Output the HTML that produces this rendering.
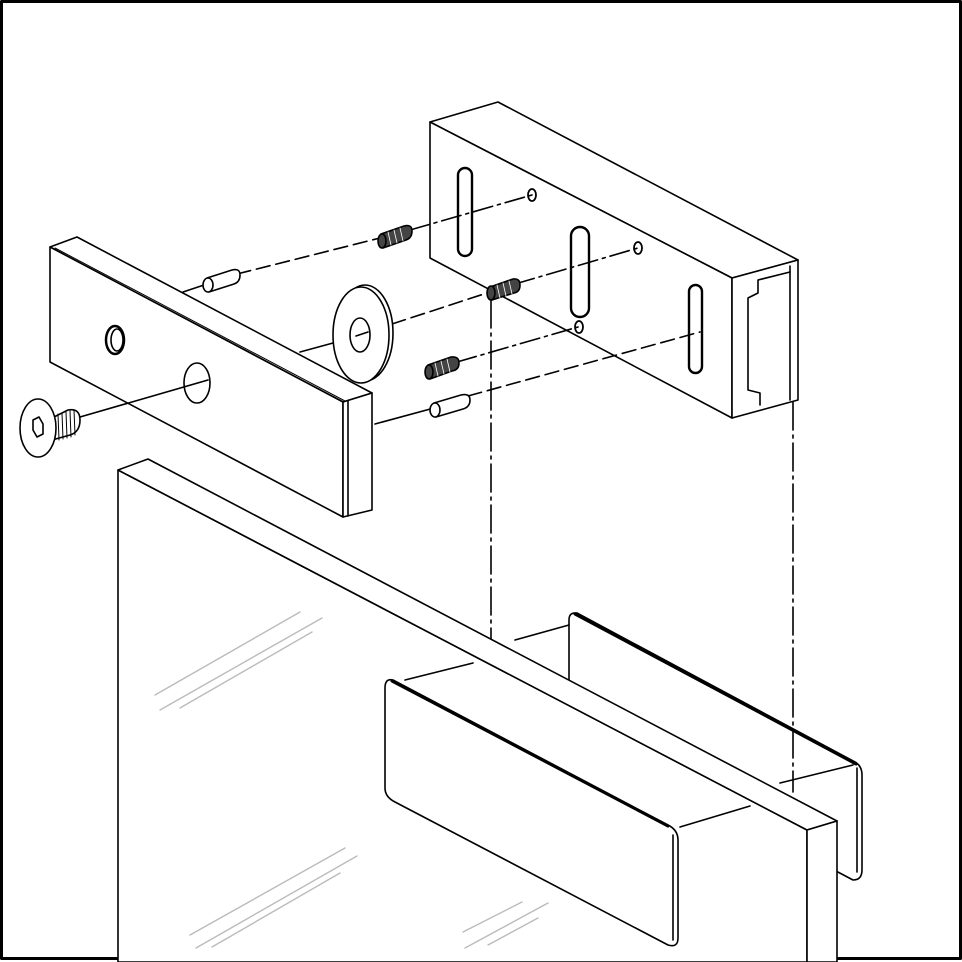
<!DOCTYPE html>
<html><head><meta charset="utf-8"><style>html,body{margin:0;padding:0;background:#fff}svg{display:block}</style></head>
<body>
<svg width="962" height="962" viewBox="0 0 962 962" xmlns="http://www.w3.org/2000/svg" fill="#fff" stroke="#000" stroke-width="1.6" stroke-linejoin="round" stroke-linecap="round">
<rect x="1.5" y="1.5" width="959" height="957" fill="#fff" stroke="#000" stroke-width="3"/>

<!-- back clamp plate (behind glass) -->
<path d="M569,620 Q569,612 577,613 L855,762 Q862,766 862,775 L862,870 Q862,880 853,880 L569,730 Z"/>
<path d="M575,614 L856,764" stroke-width="3" fill="none"/>
<path d="M857,768 L857,872" fill="none"/>
<line x1="515" y1="640" x2="569" y2="625"/>
<line x1="780" y1="783" x2="853" y2="765"/>

<!-- vertical guide lines -->
<g fill="none" stroke-dasharray="28,5,3,5">
<line x1="491" y1="300" x2="491" y2="640"/>
<line x1="793" y1="402" x2="793" y2="792"/>
</g>

<!-- glass -->
<polygon points="118,470 807,830 807,962 118,962"/>
<polygon points="118,470 148,459 837,821 807,830"/>
<polygon points="807,830 837,821 837,962 807,962"/>
<g stroke="#bbb" stroke-width="1.4" fill="none">
<line x1="155" y1="695" x2="300" y2="612"/>
<line x1="160" y1="710" x2="322" y2="618"/>
<line x1="180" y1="708" x2="312" y2="632"/>
<line x1="190" y1="935" x2="345" y2="848"/>
<line x1="196" y1="948" x2="357" y2="856"/>
<line x1="212" y1="947" x2="340" y2="873"/>
<line x1="463" y1="932" x2="522" y2="902"/>
<line x1="465" y1="948" x2="548" y2="903"/>
<line x1="488" y1="945" x2="538" y2="918"/>
</g>

<!-- front clamp plate -->
<line x1="405" y1="680" x2="473" y2="663"/>
<line x1="680" y1="827" x2="750" y2="806"/>
<path d="M385,688 Q385,678 393,680 L668,825 Q678,830 678,840 L678,938 Q678,948 668,945 L395,802 Q385,797 385,788 Z"/>
<path d="M392,681 L668,826" stroke-width="3" fill="none"/>
<path d="M673,835 L673,940" fill="none"/>

<!-- large bracket -->
<polygon points="430,122 498,102 798,260 732,278"/>
<polygon points="430,122 732,278 732,418 430,258"/>
<polygon points="732,278 798,260 798,400 732,418"/>
<polyline points="790,266 790,400" fill="none"/>
<polyline points="790,272 758,280 758,293 748,298 748,390 760,393 760,405" fill="none"/>
<rect x="458" y="168" width="14" height="88" rx="7" fill="none" stroke-width="2.4"/>
<rect x="571" y="227" width="18" height="90" rx="9" fill="none" stroke-width="2.4"/>
<rect x="689" y="285" width="13" height="88" rx="6.5" fill="none" stroke-width="2.4"/>
<ellipse cx="532" cy="195" rx="4" ry="6" fill="none" stroke-width="1.8"/>
<ellipse cx="638" cy="248" rx="4" ry="6" fill="none" stroke-width="1.8"/>
<ellipse cx="579" cy="327" rx="4" ry="6" fill="none" stroke-width="1.8"/>

<!-- assembly lines -->
<g fill="none">
<line x1="183" y1="292" x2="207" y2="284"/>
<line x1="237" y1="274" x2="380" y2="238" stroke-dasharray="14,6"/>
<line x1="410" y1="230" x2="532" y2="195" stroke-dasharray="20,5,3,5"/>
<line x1="300" y1="352" x2="355" y2="337"/>
<line x1="392" y1="324" x2="490" y2="292" stroke-dasharray="14,6"/>
<line x1="515" y1="284" x2="638" y2="248" stroke-dasharray="20,5,3,5"/>
<line x1="457" y1="362" x2="578" y2="327" stroke-dasharray="20,5,3,5"/>
<line x1="375" y1="424" x2="434" y2="408"/>
<line x1="468" y1="396" x2="700" y2="332" stroke-dasharray="14,6"/>
</g>

<!-- pins -->
<g>
<path d="M207,278 L232,270 Q240,268 240,275 Q240,282 234,284 L209,292 Z"/>
<ellipse cx="208" cy="285" rx="5" ry="7"/>
<path d="M434,403 L461,395 Q470,393 470,400 Q470,407 463,409 L436,417 Z"/>
<ellipse cx="435" cy="410" rx="5" ry="7"/>
</g>
<!-- grub screws -->
<g fill="#444" stroke="#000">
<path d="M381,234 L404,226 Q412,224 412,231 Q412,238 406,240 L383,248 Z"/>
<path d="M490,287 L513,279 Q520,278 520,285 Q520,292 514,293 L492,300 Z"/>
<path d="M428,365 L451,357 Q459,356 459,363 Q459,370 452,371 L430,379 Z"/>
<ellipse cx="382" cy="241" rx="4" ry="7"/>
<ellipse cx="491" cy="293" rx="4" ry="7"/>
<ellipse cx="429" cy="372" rx="4" ry="7"/>
</g>
<g stroke="#fff" stroke-width="0.8">
<line x1="388" y1="232" x2="391" y2="245"/><line x1="394" y1="230" x2="397" y2="243"/><line x1="400" y1="228" x2="403" y2="241"/>
<line x1="497" y1="285" x2="500" y2="298"/><line x1="503" y1="283" x2="506" y2="296"/><line x1="509" y1="281" x2="512" y2="294"/>
<line x1="435" y1="363" x2="438" y2="376"/><line x1="441" y1="361" x2="444" y2="374"/><line x1="447" y1="359" x2="450" y2="372"/>
</g>

<!-- washer -->
<ellipse cx="365" cy="333" rx="28" ry="48"/>
<ellipse cx="361" cy="335" rx="28" ry="48"/>
<ellipse cx="360" cy="335" rx="10" ry="17"/>
<line x1="356" y1="336" x2="368" y2="332" fill="none"/>

<!-- small front bracket -->
<polygon points="50,247 77,237 372,393 343,402"/>
<polygon points="50,247 343,402 343,517 50,362"/>
<polygon points="343,402 372,393 372,510 343,517"/>
<line x1="348" y1="401" x2="348" y2="516" fill="none"/>
<line x1="55" y1="248" x2="345" y2="401" fill="none" stroke-width="1"/>
<ellipse cx="115" cy="340" rx="9" ry="14" stroke-width="2.5"/>
<ellipse cx="117" cy="340" rx="6" ry="11" fill="none"/>
<ellipse cx="197" cy="383" rx="13" ry="20"/>
<line x1="80" y1="417" x2="208" y2="380" fill="none"/>

<!-- countersunk screw -->
<path d="M52,418 L68,410 Q80,408 80,420 Q80,432 70,435 L52,440 Z"/>
<g stroke-width="1" fill="none">
<line x1="58" y1="414" x2="59" y2="440"/><line x1="62" y1="413" x2="63" y2="439"/><line x1="66" y1="412" x2="67" y2="438"/><line x1="70" y1="411" x2="71" y2="437"/><line x1="74" y1="410" x2="75" y2="435"/>
</g>
<ellipse cx="38" cy="428" rx="18" ry="29"/>
<polygon points="33,420 39,417 43,424 43,434 37,437 33,430"/>
</svg>
</body></html>
